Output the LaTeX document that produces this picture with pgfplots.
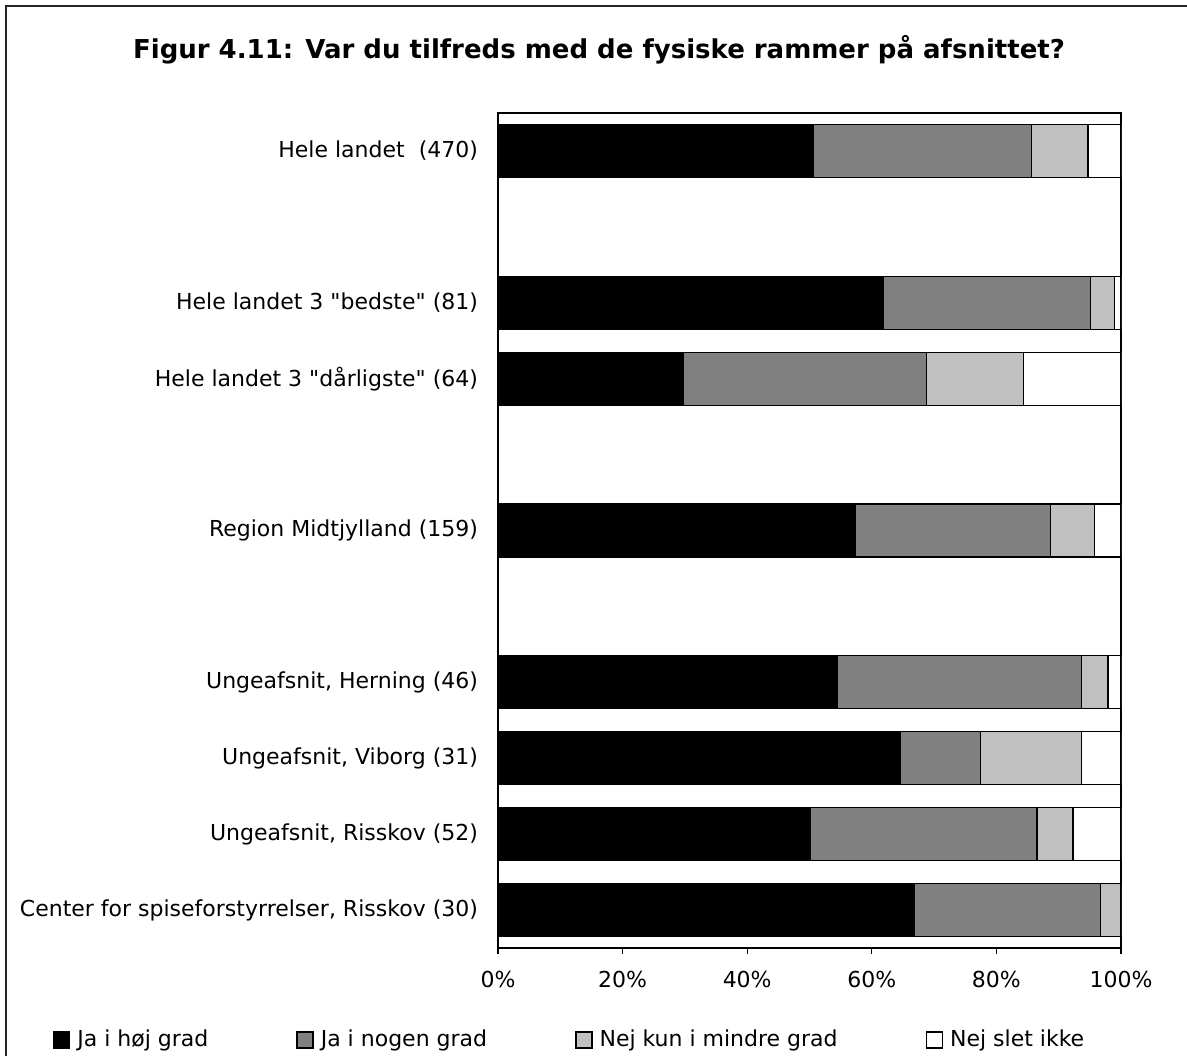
\documentclass[border=0pt]{standalone}
\usepackage{fontspec}
\setmainfont{DejaVu Sans}[Ligatures=TeXOff]
\usepackage{pgfplots}
\pgfplotsset{compat=1.18}
\definecolor{dg}{RGB}{128,128,128}
\definecolor{lg}{RGB}{192,192,192}
\pgfplotstableread{
pos a b c d
0 50.6 35.0 9.1 5.3
2 61.8 33.3 3.8 1.1
3 29.8 39.0 15.6 15.6
5 57.4 31.3 7.0 4.3
7 54.4 39.2 4.3 2.1
8 64.6 12.9 16.1 6.4
9 50.2 36.3 5.8 7.7
10 66.8 29.9 3.3 0
}\datatable
\begin{document}
\begin{tikzpicture}[x=1pt,y=1pt]
\useasboundingbox (0,0) rectangle (593.5,-528);
\draw[line width=1pt, black!85] (3.2,-528) -- (3.2,-2.8) -- (593.5,-2.8);
\node[font=\bfseries\fontsize{13}{15}\selectfont] at (299.5,-25) {Figur 4.11: Var du tilfreds med de fysiske rammer på afsnittet?};
\begin{axis}[
  at={(249pt,-474pt)}, anchor=south west,
  scale only axis, width=311.5pt, height=417.5pt,
  xbar stacked, bar width=26.5pt,
  xmin=0, xmax=100, ymin=-0.5, ymax=10.5, y dir=reverse,
  axis line style={line width=0.8pt},
  ytick={0,2,3,5,7,8,9,10},
  yticklabels={Hele landet\ \ (470), Hele landet 3 "bedste" (81), Hele landet 3 "dårligste" (64), Region Midtjylland (159), {Ungeafsnit, Herning (46)}, {Ungeafsnit, Viborg (31)}, {Ungeafsnit, Risskov (52)}, {Center for spiseforstyrrelser, Risskov (30)}},
  ytick style={draw=none},
  yticklabel style={font=\fontsize{11}{13}\selectfont, xshift=-6.5pt},
  xtick={0,20,40,60,80,100},
  xticklabels={0\%,20\%,40\%,60\%,80\%,100\%},
  xtick pos=bottom, xtick align=outside, major tick length=3pt,
  xtick style={line width=0.6pt, black},
  xticklabel style={font=\fontsize{11}{13}\selectfont, yshift=-5pt},
  every axis plot/.append style={draw=black, line width=0.6pt},
  legend columns=4,
  legend style={at={(-0.715,-0.11)}, anchor=west, draw=none, inner sep=0pt,
    font=\fontsize{11}{13}\selectfont,
    /tikz/every odd column/.append style={column sep=1.5pt},
    /tikz/every even column/.append style={column sep=42pt}},
  legend image code/.code={\draw[#1, line width=0.7pt] (0pt,-4pt) rectangle (8pt,4pt);},
]
\addplot[fill=black] table[x=a, y=pos] {\datatable};
\addplot[fill=dg] table[x=b, y=pos] {\datatable};
\addplot[fill=lg] table[x=c, y=pos] {\datatable};
\addplot[fill=white] table[x=d, y=pos] {\datatable};
\legend{Ja i høj grad, Ja i nogen grad, Nej kun i mindre grad, Nej slet ikke}
\end{axis}
\end{tikzpicture}
\end{document}
